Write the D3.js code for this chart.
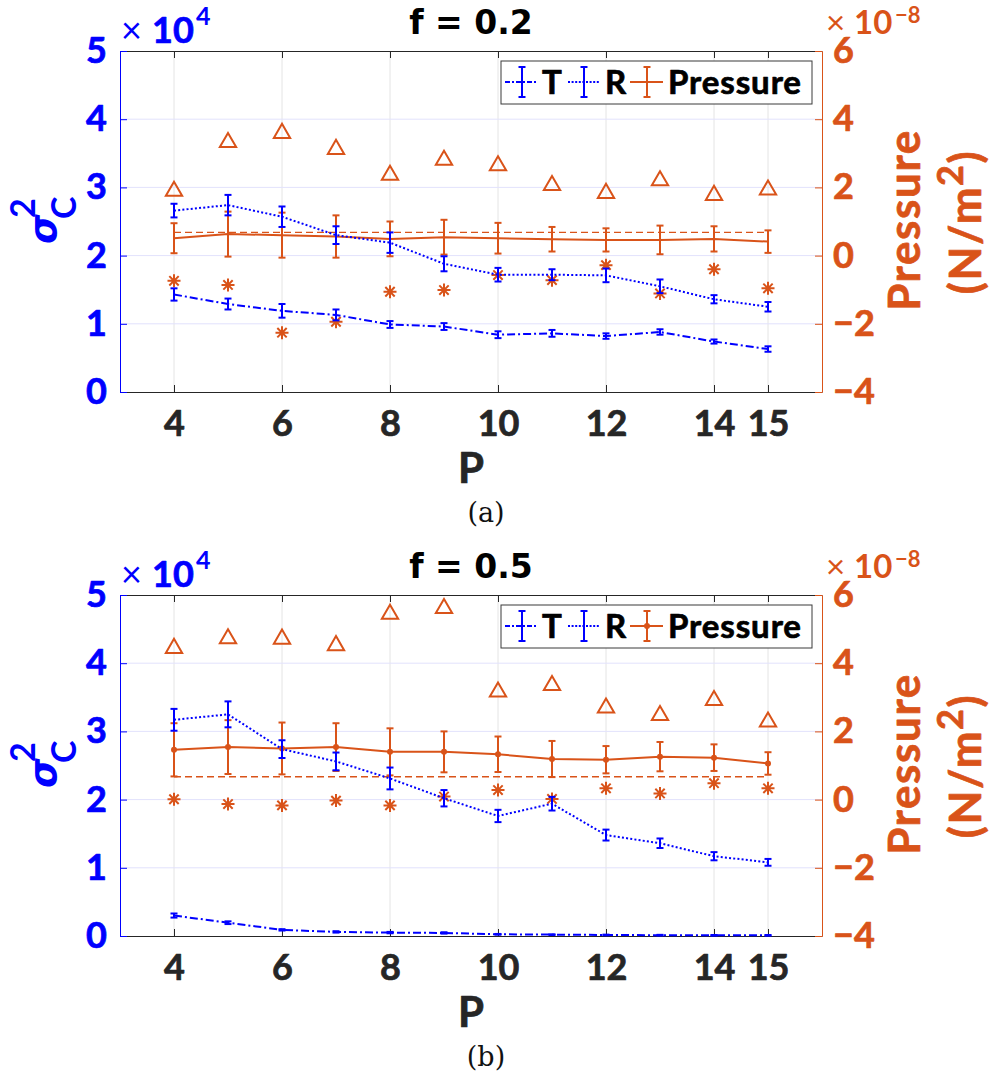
<!DOCTYPE html>
<html>
<head>
<meta charset="utf-8">
<script src="https://cdn.jsdelivr.net/npm/d3@7"></script>
<style>
  body { margin: 0; background: #fff; }
  svg text { font-family: Lato, "DejaVu Sans", sans-serif; }
  .heavy { paint-order: stroke; stroke-width: 0.7px; stroke-linejoin: round; }
</style>
</head>
<body>
<svg id="chart" width="990" height="1082"></svg>
<script>
// ---- data -------------------------------------------------------------
const P = [4, 5, 6, 7, 8, 9, 10, 11, 12, 13, 14, 15];
const xTicks = [4, 6, 8, 10, 12, 14, 15];
const leftTicks = [0, 1, 2, 3, 4, 5];          // sigma_C^2, x 10^4
const rightTicks = [-4, -2, 0, 2, 4, 6];       // pressure, x 10^-8 N/m^2

// f = 0.2
const tMean02 = [1.43, 1.29, 1.19, 1.13, 0.99, 0.96, 0.84, 0.86, 0.82, 0.88, 0.74, 0.63];
const tErr02  = [0.09, 0.08, 0.10, 0.08, 0.05, 0.05, 0.05, 0.05, 0.04, 0.04, 0.03, 0.04];
const rMean02 = [2.66, 2.74, 2.57, 2.30, 2.19, 1.88, 1.72, 1.72, 1.71, 1.55, 1.36, 1.25];
const rErr02  = [0.10, 0.15, 0.15, 0.13, 0.15, 0.11, 0.10, 0.08, 0.10, 0.10, 0.06, 0.07];
const pMean02 = [0.51, 0.63, 0.60, 0.56, 0.49, 0.54, 0.51, 0.48, 0.46, 0.46, 0.49, 0.41];
const pErr02  = [0.44, 0.66, 0.66, 0.62, 0.51, 0.51, 0.45, 0.36, 0.34, 0.42, 0.37, 0.33];
const pTri02  = [1.89, 3.32, 3.59, 3.12, 2.36, 2.80, 2.64, 2.06, 1.83, 2.20, 1.77, 1.93];
const pStar02 = [-0.74, -0.86, -2.26, -1.94, -1.06, -1.01, -0.57, -0.72, -0.28, -1.11, -0.40, -0.96];
const pRef02  = 0.68;

// f = 0.5
const tMean05 = [0.30, 0.195, 0.09, 0.06, 0.05, 0.045, 0.025, 0.02, 0.015, 0.012, 0.01, 0.01];
const tErr05  = [0.03, 0.02, 0.01, 0.01, 0.01, 0.01, 0.005, 0.005, 0.005, 0.005, 0.005, 0.005];
const rMean05 = [3.17, 3.25, 2.74, 2.56, 2.31, 2.02, 1.76, 1.94, 1.48, 1.36, 1.17, 1.08];
const rErr05  = [0.16, 0.19, 0.13, 0.13, 0.16, 0.12, 0.09, 0.10, 0.08, 0.07, 0.06, 0.05];
const pMean05 = [1.46, 1.54, 1.50, 1.54, 1.40, 1.40, 1.33, 1.19, 1.17, 1.26, 1.23, 1.06];
const pErr05  = [0.78, 0.79, 0.76, 0.70, 0.69, 0.60, 0.52, 0.53, 0.40, 0.43, 0.39, 0.33];
const pTri05  = [4.44, 4.72, 4.71, 4.52, 5.44, 5.61, 3.16, 3.35, 2.69, 2.47, 2.91, 2.28];
const pStar05 = [0.01, -0.13, -0.17, -0.03, -0.17, 0.09, 0.28, 0.02, 0.33, 0.18, 0.48, 0.33];
const pRef05  = 0.67;

// ---- styling ----------------------------------------------------------
const BLUE = "#0000ff", ORANGE = "#d95319", AXIS = "#262626";
const SANS = "Lato, 'DejaVu Sans', sans-serif";
const TICK_FONT = `bold 36px ${SANS}`;

const svg = d3.select("#chart");
svg.append("rect").attr("width", 990).attr("height", 1082).attr("fill", "#fff");

const panels = [
  { top: 51, title: "f = 0.2", caption: "(a)",
    t: tMean02, tErr: tErr02, r: rMean02, rErr: rErr02,
    p: pMean02, pErr: pErr02, tri: pTri02, star: pStar02, ref: pRef02, dots: false },
  { top: 595, title: "f = 0.5", caption: "(b)",
    t: tMean05, tErr: tErr05, r: rMean05, rErr: rErr05,
    p: pMean05, pErr: pErr05, tri: pTri05, star: pStar05, ref: pRef05, dots: true }
];

function asteriskPath(r) {
  const p = d3.path(), k = r * 0.72;
  p.moveTo(0, -r); p.lineTo(0, r);
  p.moveTo(-r, 0); p.lineTo(r, 0);
  p.moveTo(-k, -k); p.lineTo(k, k);
  p.moveTo(-k, k); p.lineTo(k, -k);
  return p.toString();
}

function errorBars(g, xs, vals, errs, y, color, half) {
  const eb = g.append("g").attr("stroke", color).attr("stroke-width", 2).attr("fill", "none");
  vals.forEach((v, i) => {
    const cx = xs(P[i]);
    const y1 = y(v - errs[i]), y2 = y(v + errs[i]);
    eb.append("line").attr("x1", cx).attr("x2", cx).attr("y1", y1).attr("y2", y2);
    eb.append("line").attr("x1", cx - half).attr("x2", cx + half).attr("y1", y1).attr("y2", y1);
    eb.append("line").attr("x1", cx - half).attr("x2", cx + half).attr("y1", y2).attr("y2", y2);
  });
}

function styleAxis(sel, color, withText) {
  sel.attr("font-size", null).attr("font-family", null);
  sel.select(".domain").attr("stroke", color).attr("stroke-width", 1);
  sel.selectAll(".tick line").attr("stroke", color).attr("stroke-width", 1);
  if (withText) {
    sel.selectAll(".tick text").attr("fill", color).attr("stroke", color)
      .attr("class", "heavy").style("font", TICK_FONT);
  }
}

function drawPanel(cfg) {
  const top = cfg.top, bottom = top + 341, left = 120, right = 822;
  const x = d3.scaleLinear().domain([3, 16]).range([left, right]);
  const yL = d3.scaleLinear().domain([0, 5]).range([bottom, top]);
  const yR = d3.scaleLinear().domain([-4, 6]).range([bottom, top]);
  const g = svg.append("g");

  // grid
  g.append("g").selectAll("line").data(xTicks).join("line")
    .attr("x1", d => x(d)).attr("x2", d => x(d)).attr("y1", top).attr("y2", bottom)
    .attr("stroke", "#e4e4e4").attr("stroke-width", 1);
  g.append("g").selectAll("line").data(leftTicks.slice(1, -1)).join("line")
    .attr("x1", left).attr("x2", right).attr("y1", d => yL(d)).attr("y2", d => yL(d))
    .attr("stroke", "#e2e2fc").attr("stroke-width", 1);

  // axes
  const axTop = g.append("g").attr("transform", `translate(0,${top})`)
    .call(d3.axisTop(x).tickValues(xTicks).tickSize(-7).tickSizeOuter(0).tickFormat(""));
  styleAxis(axTop, AXIS, false);
  const axBottom = g.append("g").attr("transform", `translate(0,${bottom})`)
    .call(d3.axisBottom(x).tickValues(xTicks).tickSize(-7).tickSizeOuter(0).tickPadding(18));
  styleAxis(axBottom, AXIS, true);
  const axLeft = g.append("g").attr("transform", `translate(${left},0)`)
    .call(d3.axisLeft(yL).tickValues(leftTicks).tickFormat(d3.format("d"))
      .tickSize(-7).tickSizeOuter(0).tickPadding(13));
  styleAxis(axLeft, BLUE, true);
  const axRight = g.append("g").attr("transform", `translate(${right},0)`)
    .call(d3.axisRight(yR).tickValues(rightTicks).tickSize(-7).tickSizeOuter(0).tickPadding(11));
  styleAxis(axRight, ORANGE, true);

  // reference pressure level
  g.append("line")
    .attr("x1", x(P[0])).attr("x2", x(P[P.length - 1]))
    .attr("y1", yR(cfg.ref)).attr("y2", yR(cfg.ref))
    .attr("stroke", ORANGE).attr("stroke-width", 1.3).attr("stroke-dasharray", "7,4");

  // triangle and asterisk markers (pressure axis)
  const tri = d3.symbol(d3.symbolTriangle, 115)();
  g.append("g").selectAll("path").data(cfg.tri).join("path")
    .attr("d", tri)
    .attr("transform", (d, i) => `translate(${x(P[i])},${yR(d)})`)
    .attr("fill", "none").attr("stroke", ORANGE).attr("stroke-width", 2);
  const ast = asteriskPath(6.5);
  g.append("g").selectAll("path").data(cfg.star).join("path")
    .attr("d", ast)
    .attr("transform", (d, i) => `translate(${x(P[i])},${yR(d)})`)
    .attr("fill", "none").attr("stroke", ORANGE).attr("stroke-width", 2);

  // pressure mean with error bars
  errorBars(g, x, cfg.p, cfg.pErr, yR, ORANGE, 3.5);
  g.append("path").datum(cfg.p)
    .attr("d", d3.line().x((d, i) => x(P[i])).y(d => yR(d)))
    .attr("fill", "none").attr("stroke", ORANGE).attr("stroke-width", 2);
  if (cfg.dots) {
    g.append("g").selectAll("circle").data(cfg.p).join("circle")
      .attr("cx", (d, i) => x(P[i])).attr("cy", d => yR(d)).attr("r", 3)
      .attr("fill", ORANGE);
  }

  // T (dash-dot) and R (dotted)
  errorBars(g, x, cfg.t, cfg.tErr, yL, BLUE, 3.5);
  g.append("path").datum(cfg.t)
    .attr("d", d3.line().x((d, i) => x(P[i])).y(d => yL(d)))
    .attr("fill", "none").attr("stroke", BLUE).attr("stroke-width", 2)
    .attr("stroke-dasharray", "8,3,2,3");
  errorBars(g, x, cfg.r, cfg.rErr, yL, BLUE, 3.5);
  g.append("path").datum(cfg.r)
    .attr("d", d3.line().x((d, i) => x(P[i])).y(d => yL(d)))
    .attr("fill", "none").attr("stroke", BLUE).attr("stroke-width", 2)
    .attr("stroke-dasharray", "2,2.2");

  // legend
  const lg = g.append("g").attr("transform", `translate(501,${top + 10})`);
  lg.append("rect").attr("width", 311).attr("height", 43)
    .attr("fill", "#fff").attr("stroke", "#3a3a3a").attr("stroke-width", 1);
  const items = [
    { label: "T", color: BLUE, dash: "5,2,2,2", x0: 4, x1: 37, bar: 21, tx: 41 },
    { label: "R", color: BLUE, dash: "2,1.6", x0: 67, x1: 99, bar: 83, tx: 104 },
    { label: "Pressure", color: ORANGE, dash: null, x0: 129, x1: 162, bar: 146, tx: 167 }
  ];
  items.forEach(it => {
    lg.append("line").attr("x1", it.x0).attr("x2", it.x1).attr("y1", 21).attr("y2", 21)
      .attr("stroke", it.color).attr("stroke-width", 2)
      .attr("stroke-dasharray", it.dash);
    const b = lg.append("g").attr("stroke", it.color).attr("stroke-width", 2);
    b.append("line").attr("x1", it.bar).attr("x2", it.bar).attr("y1", 6).attr("y2", 36);
    b.append("line").attr("x1", it.bar - 3.5).attr("x2", it.bar + 3.5).attr("y1", 6).attr("y2", 6);
    b.append("line").attr("x1", it.bar - 3.5).attr("x2", it.bar + 3.5).attr("y1", 36).attr("y2", 36);
    if (it.label === "Pressure" && cfg.dots) {
      lg.append("circle").attr("cx", it.bar).attr("cy", 21).attr("r", 3).attr("fill", it.color);
    }
    lg.append("text").attr("x", it.tx).attr("y", 33).text(it.label)
      .attr("class", "heavy").attr("stroke", "#000")
      .style("font", `bold 33px ${SANS}`).style("letter-spacing", "0.9px")
      .attr("fill", "#000");
  });

  // title
  g.append("text").attr("x", 471).attr("y", top - 17).attr("text-anchor", "middle")
    .style("font", "bold 33px 'DejaVu Sans', sans-serif").attr("fill", "#000")
    .text(cfg.title);

  // axis multipliers
  const mL = g.append("text").attr("y", top - 8).attr("fill", BLUE)
    .style("font", `bold 36px ${SANS}`);
  mL.append("tspan").attr("x", 121).style("font-weight", "normal").text("×");
  mL.append("tspan").attr("x", 152).attr("class", "heavy").attr("stroke", BLUE).text("10");
  mL.append("tspan").attr("x", 196).attr("dy", -18).style("font-size", "25px").text("4");

  const mR = g.append("text").attr("y", top - 17).attr("fill", ORANGE)
    .style("font", `bold 33px ${SANS}`);
  mR.append("tspan").attr("x", 826).style("font-weight", "normal").style("font-size", "33px").text("×");
  mR.append("tspan").attr("x", 854).text("10");
  mR.append("tspan").attr("x", 895).attr("dy", -11).style("font-size", "22px").text("−8");

  // left axis label: sigma_C^2
  const sl = g.append("g").attr("transform", `translate(56,${top + 193}) rotate(-90)`)
    .attr("fill", BLUE);
  sl.append("text").attr("x", 0).attr("y", 0)
    .style("font", "italic bold 38px 'DejaVu Sans', sans-serif").text("σ");
  sl.append("text").attr("x", 26).attr("y", -21)
    .style("font", `bold 34px ${SANS}`).text("2");
  sl.append("text").attr("x", 25).attr("y", 20)
    .style("font", `bold 34px ${SANS}`).text("C");

  // right axis label
  g.append("text").attr("transform", `translate(920,${top + 169}) rotate(-90)`)
    .attr("text-anchor", "middle").attr("fill", ORANGE).attr("stroke", ORANGE)
    .attr("class", "heavy").style("letter-spacing", "1.6px")
    .style("font", `bold 44px ${SANS}`).text("Pressure");
  const unit = g.append("text").attr("transform", `translate(981,${top + 171}) rotate(-90)`)
    .attr("text-anchor", "middle").attr("fill", ORANGE).attr("stroke", ORANGE)
    .attr("class", "heavy").style("letter-spacing", "1.6px")
    .style("font", `bold 44px ${SANS}`);
  unit.append("tspan").text("(N/m");
  unit.append("tspan").attr("dy", -18).style("font-size", "36px").text("2");
  unit.append("tspan").attr("dy", 18).text(")");

  // x label and caption
  g.append("text").attr("x", 471).attr("y", bottom + 91).attr("text-anchor", "middle")
    .attr("fill", AXIS).attr("stroke", AXIS).attr("class", "heavy")
    .style("font", `bold 42px ${SANS}`).text("P");
  g.append("text").attr("x", 486).attr("y", bottom + 130).attr("text-anchor", "middle")
    .attr("fill", "#111").style("font", "27px 'DejaVu Serif', serif").text(cfg.caption);
}

panels.forEach(drawPanel);
</script>
</body>
</html>
